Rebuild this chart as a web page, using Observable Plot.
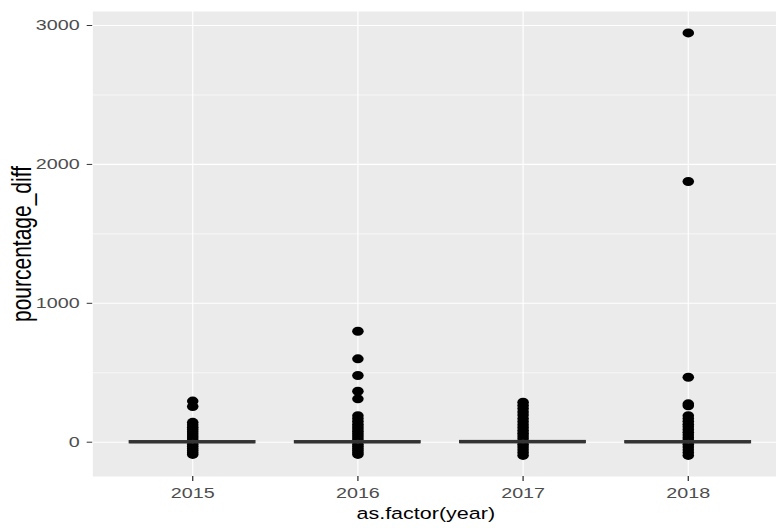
<!DOCTYPE html>
<html>
<head>
<meta charset="utf-8">
<script src="https://cdn.jsdelivr.net/npm/d3@7"></script>
<script src="https://cdn.jsdelivr.net/npm/@observablehq/plot@0.6"></script>
<style>
  html, body { margin: 0; padding: 0; background: #ffffff; }
  #chart { width: 776px; height: 528px; overflow: hidden; }
</style>
</head>
<body>
<div id="chart"></div>
<script>
// ---- data ----
const years = ["2015", "2016", "2017", "2018"];
const boxQ1 = [-8, -8, -7, -8];
const boxMedian = [0, 0, 0, 0];
const boxQ3 = [8, 8, 9, 8];
const whiskerLow = [-14, -14, -13, -14];
const whiskerHigh = [14, 14, 15, 14];

const outliers2015 = [296, 257, 143, 125, 108, 92, 76, 60, 45, 30, 15, -15, -30, -45, -60, -75, -88];
const outliers2016 = [799, 600, 480, 367, 312, 190, 170, 150, 130, 112, 95, 78, 62, 46, 30, 15, -15, -30, -45, -60, -75, -88];
const outliers2017 = [288, 265, 242, 218, 195, 170, 148, 125, 105, 85, 65, 45, 25, -15, -35, -55, -75, -95];
const outliers2018 = [2947, 1877, 468, 276, 262, 190, 170, 150, 130, 112, 92, 72, 52, 32, 15, -15, -35, -55, -75, -95];

const yTicks = [0, 1000, 2000, 3000];
const yMinorTicks = [500, 1500, 2500];
const xTitle = "as.factor(year)";
const yTitle = "pourcentage_diff";

// ---- build tables ----
const boxes = years.map((y, i) => ({
  year: y, q1: boxQ1[i], median: boxMedian[i], q3: boxQ3[i],
  lo: whiskerLow[i], hi: whiskerHigh[i]
}));
const outlierLists = [outliers2015, outliers2016, outliers2017, outliers2018];
const outliers = outlierLists.flatMap((vals, i) => vals.map(v => ({year: years[i], value: v})));

// The reference image is stretched horizontally; draw at a narrower width and stretch.
const stretch = 1.28;
const W = Math.round(776 / stretch);
const H = 528;
const font = "'Liberation Sans', Arial, Helvetica, sans-serif";

const plot = Plot.plot({
  width: W,
  height: H,
  marginLeft: 72,
  marginRight: 0,
  marginTop: 11,
  marginBottom: 52,
  style: {fontFamily: font, background: "#ffffff"},
  x: {type: "band", domain: years, range: [72.1, 614.6], paddingInner: 0.244, paddingOuter: 0.222},
  y: {domain: [-247, 3101]},
  marks: [
    Plot.frame({fill: "#EBEBEB", stroke: null}),
    Plot.ruleY(yMinorTicks, {stroke: "#ffffff", strokeWidth: 0.55}),
    Plot.ruleY(yTicks, {stroke: "#ffffff", strokeWidth: 1.1}),
    Plot.ruleX(years, {x: d => d, stroke: "#ffffff", strokeWidth: 0.9}),
    Plot.dot(outliers, {x: "year", y: "value", r: 4.5, fill: "#000000", stroke: null}),
    Plot.ruleX(boxes, {x: "year", y1: "lo", y2: "q1", stroke: "#333333", strokeWidth: 1}),
    Plot.ruleX(boxes, {x: "year", y1: "q3", y2: "hi", stroke: "#333333", strokeWidth: 1}),
    Plot.barY(boxes, {x: "year", y1: "q1", y2: "q3", fill: "#ffffff", stroke: "#333333", strokeWidth: 1.1}),
    Plot.tickY(boxes, {x: "year", y: "median", stroke: "#333333", strokeWidth: 2.2}),
    Plot.axisY({ticks: yTicks, tickFormat: d => String(d), tickSize: 4.3, tickPadding: 6, fontSize: 15.4, fill: "#4D4D4D", stroke: "#333333", label: null}),
    Plot.axisX({tickSize: 5, tickPadding: 5.7, fontSize: 15.4, fill: "#4D4D4D", stroke: "#333333", label: null}),
    Plot.text([xTitle], {frameAnchor: "bottom", textAnchor: "middle", dx: -7, dy: 37, fontSize: 16.8, fill: "#000000", lineAnchor: "middle"}),
    Plot.text([yTitle], {frameAnchor: "left", textAnchor: "middle", dx: -55, rotate: -90, fontSize: 21, fill: "#000000", lineAnchor: "middle"})
  ]
});

plot.setAttribute("preserveAspectRatio", "none");
plot.style.width = "776px";
plot.style.height = "528px";
plot.style.maxWidth = "none";
document.getElementById("chart").appendChild(plot);
</script>
</body>
</html>
